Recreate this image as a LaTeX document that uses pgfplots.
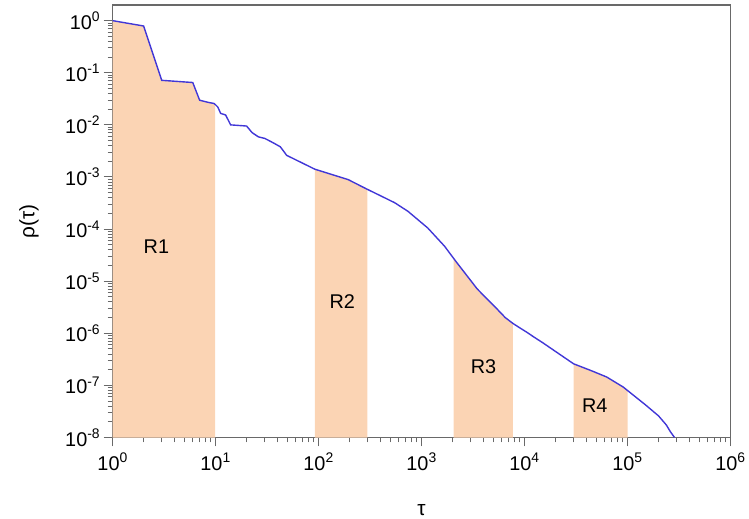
\documentclass[border=0pt]{standalone}
\usepackage{fontspec}
\setmainfont{Liberation Sans}
\usepackage{pgfplots}
\pgfplotsset{compat=1.18}
\usepgfplotslibrary{fillbetween}
\definecolor{peach}{RGB}{251,212,180}
\definecolor{curveblue}{RGB}{65,55,215}
\definecolor{framegray}{RGB}{105,105,105}
\newcommand\logexp[1]{\pgfmathtruncatemacro\myexp{round(#1/2.302585093)}10\textsuperscript{\myexp}}
\begin{document}
\begin{tikzpicture}
\begin{axis}[
  scale only axis,
  width=620bp, height=434bp,
  xmode=log, ymode=log,
  xmin=1, xmax=1e6, ymin=1e-8, ymax=2,
  xtick={1,10,100,1000,10000,100000,1000000},
  minor xtick={2,3,4,5,6,7,8,9,20,30,40,50,60,70,80,90,200,300,400,500,600,700,800,900,2000,3000,4000,5000,6000,7000,8000,9000,20000,30000,40000,50000,60000,70000,80000,90000,200000,300000,400000,500000,600000,700000,800000,900000},
  ytick={1e-8,1e-7,1e-6,1e-5,1e-4,1e-3,1e-2,1e-1,1},
  minor ytick={},
  tick align=outside,
  xtick pos=bottom, ytick pos=left,
  major tick length=9bp, minor tick length=5bp,
  axis line style={framegray, line width=1.5bp},
  tick style={framegray, line width=1bp},
  tick label style={font=\fontsize{20}{24}\selectfont},
  xticklabel style={yshift=-3bp},
  xticklabel={\logexp{\tick}},
  yticklabel={\logexp{\tick}},
  xlabel={τ}, ylabel={ρ(τ)},
  label style={font=\fontsize{21}{25}\selectfont},
  xlabel style={at={([yshift=-78bp]axis description cs:0.5,0)}, anchor=base},
  ylabel style={at={([xshift=-84bp]axis description cs:0,0.5)}, anchor=center},
  clip=true,
]
\addplot[draw=none, name path=base, forget plot] coordinates {(1,1e-8) (1e6,1e-8)};
\addplot[curveblue, line width=1.4bp, name path=curve] coordinates {
(1,1.0) (2,0.79) (3,0.0716) (6,0.065) (7,0.0297) (8.5,0.027) (9.7,0.0257)
(10.5,0.022) (11.2,0.0166) (12.5,0.0155) (14,0.0100) (20,0.0095) (22.6,0.0071) (26,0.0059)
(30,0.0055) (35,0.0047) (42.5,0.0038) (49,0.0026) (92,1.41e-3) (194,8.9e-4)
(292,5.9e-4) (378,4.6e-4) (549,3.2e-4) (736,2.2e-4) (1148,1.05e-4) (1670,4.7e-5) (2153,2.4e-5)
(3470,7.1e-6) (5430,2.9e-6) (6500,2.0e-6) (7700,1.55e-6) (9000,1.27e-6) (10500,1.05e-6) (12300,8.5e-7) (15000,6.6e-7) (29900,2.6e-7) (45000,1.9e-7) (62700,1.45e-7)
(90800,9.3e-8) (150000,4.2e-8) (200000,2.6e-8) (238000,1.74e-8) (260000,1.3e-8) (286000,1.0e-8)
};
\addplot[peach, draw=none] fill between[of=curve and base, soft clip={(axis cs:1,1e-8) rectangle (axis cs:9.87,2)}];
\addplot[peach, draw=none] fill between[of=curve and base, soft clip={(axis cs:92,1e-8) rectangle (axis cs:298,2)}];
\addplot[peach, draw=none] fill between[of=curve and base, soft clip={(axis cs:2046,1e-8) rectangle (axis cs:7710,2)}];
\addplot[peach, draw=none] fill between[of=curve and base, soft clip={(axis cs:29900,1e-8) rectangle (axis cs:100000,2)}];
\node[font=\fontsize{20}{24}\selectfont] at (axis cs:2.66,4.7e-5) {R1};
\node[font=\fontsize{20}{24}\selectfont] at (axis cs:170,4e-6) {R2};
\node[font=\fontsize{20}{24}\selectfont] at (axis cs:4000,2.3e-7) {R3};
\node[font=\fontsize{20}{24}\selectfont] at (axis cs:48000,4.1e-8) {R4};
\end{axis}
\path (current axis.south west) ++(-113bp,-80bp) coordinate (bbsw);
\path (current axis.north east) ++(16bp,5bp) coordinate (bbne);
\path (bbsw) rectangle (bbne);
\end{tikzpicture}
\end{document}
